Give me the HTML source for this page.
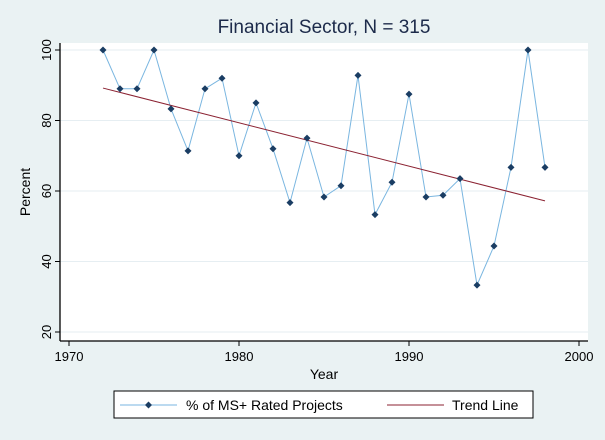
<!DOCTYPE html>
<html><head><meta charset="utf-8"><style>
body{margin:0;background:#eaf2f3;}
svg{display:block;font-family:"Liberation Sans",sans-serif;}
</style></head><body>
<svg width="605" height="440" viewBox="0 0 605 440">
<rect width="605" height="440" fill="#eaf2f3"/>
<rect x="60" y="43" width="528" height="298" fill="#fff"/>
<text x="324" y="33" font-size="19" text-anchor="middle" fill="#1c2a4a">Financial Sector, N = 315</text>
<g id="grid"></g>
<g id="axes"></g>
<g id="series"></g>
<text x="324" y="379" font-size="14" text-anchor="middle">Year</text>
<text transform="translate(30,192) rotate(-90)" font-size="14" text-anchor="middle">Percent</text>
<g>
<rect x="114" y="391" width="419" height="27" fill="#fff" stroke="#000" stroke-width="1"/>
<line x1="120" y1="405" x2="177" y2="405" stroke="#7ab6e0" stroke-width="1"/>
<path d="M148.5 401.5 L152 405 L148.5 408.5 L145 405 Z" fill="#1a3d63"/>
<text x="186" y="410" font-size="14">% of MS+ Rated Projects</text>
<line x1="387" y1="405" x2="444" y2="405" stroke="#8b2232" stroke-width="1"/>
<text x="452" y="410" font-size="14">Trend Line</text>
</g>
</svg>
<script>
const years=[1972,1973,1974,1975,1976,1977,1978,1979,1980,1981,1982,1983,1984,1985,1986,1987,1988,1989,1990,1991,1992,1993,1994,1995,1996,1997,1998];
const values=[100,89,89,100,83.3,71.4,89,92,70,85,72,56.7,75,58.3,61.5,92.8,53.3,62.5,87.5,58.3,58.8,63.5,33.3,44.4,66.7,100,66.7];
const trendYears=[1972,1998];
const trendValues=[89.2,57.2];
const xTicks=[1970,1980,1990,2000];
const yTicks=[20,40,60,80,100];
const NS='http://www.w3.org/2000/svg';
const sx=v=>69+(v-1970)*17;
const sy=v=>332-(v-20)*3.525;
function mk(t,a,p){const e=document.createElementNS(NS,t);for(const k in a)e.setAttribute(k,a[k]);p.appendChild(e);return e;}
const grid=document.getElementById('grid'),axes=document.getElementById('axes'),ser=document.getElementById('series');
yTicks.forEach(v=>{
 const g=mk('line',{x1:60,x2:588,y1:sy(v),y2:sy(v),stroke:'#e6eef2','stroke-width':1},grid);
 
 
 mk('line',{x1:55,x2:60,y1:sy(v),y2:sy(v),stroke:'#000'},axes);
 const t=mk('text',{transform:`translate(51,${sy(v)}) rotate(-90)`,'font-size':13,'text-anchor':'middle'},axes);
 
 
 t.textContent=v;
});
xTicks.forEach(v=>{
 mk('line',{x1:sx(v),x2:sx(v),y1:341,y2:346,stroke:'#000'},axes);
 const t=mk('text',{x:sx(v),y:361,'font-size':13,'text-anchor':'middle'},axes);
 
 
 t.textContent=v;
});
const ya=mk('line',{x1:60,x2:60,y1:43,y2:341,stroke:'#000','stroke-width':1.3},axes);


const xa=mk('line',{x1:60,x2:588,y1:341,y2:341,stroke:'#000','stroke-width':1.3},axes);


const pl=mk('polyline',{points:years.map((y,i)=>sx(y)+','+sy(values[i])).join(' '),fill:'none',stroke:'#7ab6e0','stroke-width':1},ser);


const tl=mk('polyline',{points:trendYears.map((y,i)=>sx(y)+','+sy(trendValues[i])).join(' '),fill:'none',stroke:'#8b2232','stroke-width':1},ser);


years.forEach((y,i)=>{
 const x=sx(y),yy=sy(values[i]);
 const p=mk('path',{d:`M${x} ${yy-3.5} L${x+3.5} ${yy} L${x} ${yy+3.5} L${x-3.5} ${yy} Z`,fill:'#1a3d63'},ser);
 
 
});
</script>
</body></html>
